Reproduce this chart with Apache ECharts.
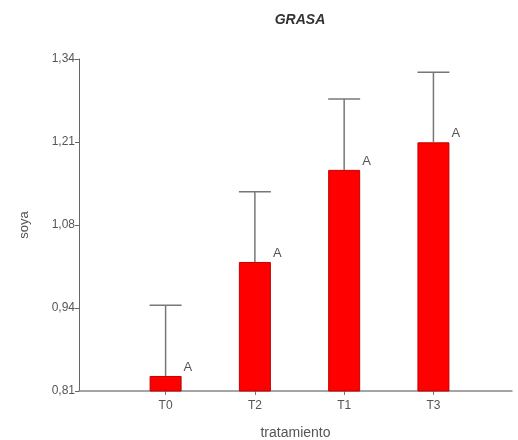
<!DOCTYPE html>
<html>
<head>
<meta charset="utf-8">
<script src="https://cdn.jsdelivr.net/npm/echarts@6/dist/echarts.min.js"></script>
<style>html,body{margin:0;padding:0;background:#fff}#c{width:518px;height:440px}</style>
</head>
<body>
<div id="c"></div>
<script>
var categories = ['T0', 'T2', 'T1', 'T3'];
var means = [0.834, 1.016, 1.163, 1.207];
var upper = [0.947, 1.128, 1.276, 1.319];
var letters = ['A', 'A', 'A', 'A'];
var yTickLabels = ['0,81', '0,94', '1,08', '1,21', '1,34'];

var yMin = 0.81, yMax = 1.34, yStep = (yMax - yMin) / 4;
var positions = categories.map(function (c, i) { return i + 1; });

var chart = echarts.init(document.getElementById('c'));
var font = 'Liberation Sans, Arial, sans-serif';
chart.setOption({
  animation: false,
  title: {
    text: 'GRASA', left: 295, top: 8, textAlign: 'center',
    textStyle: { fontSize: 14, fontWeight: 'bold', fontStyle: 'italic', color: '#333', fontFamily: font }
  },
  grid: { left: 79, right: 6, top: 59, bottom: 49, outerBoundsMode: 'none', containLabel: false },
  xAxis: {
    type: 'value', min: 0.03, max: 4.88,
    name: 'tratamiento', nameLocation: 'middle', nameGap: 35,
    nameTextStyle: { fontSize: 14, color: '#555', fontFamily: font },
    axisLine: { show: true, onZero: false, lineStyle: { color: '#888', width: 1.5 } },
    axisTick: { show: true, length: 4, customValues: positions, lineStyle: { color: '#777' } },
    axisLabel: {
      customValues: positions, margin: 9, fontSize: 12, color: '#555', fontFamily: font,
      formatter: function (v) { return categories[Math.round(v) - 1] || ''; }
    },
    splitLine: { show: false }
  },
  yAxis: {
    type: 'value', min: yMin, max: yMax, interval: yStep,
    name: 'soya', nameLocation: 'middle', nameGap: 48,
    nameTextStyle: { fontSize: 13, color: '#555', fontFamily: font },
    axisLine: { show: true, lineStyle: { color: '#666', width: 1 } },
    axisTick: { show: true, length: 4, lineStyle: { color: '#666' } },
    axisLabel: {
      margin: 4, fontSize: 12, color: '#555', fontFamily: font,
      formatter: function (v) { return yTickLabels[Math.round((v - yMin) / yStep)]; }
    },
    splitLine: { show: false }
  },
  series: [
    {
      type: 'bar', barWidth: 32,
      data: means.map(function (m, i) { return [positions[i], m]; }),
      itemStyle: { color: '#ff0000', borderColor: '#c00000', borderWidth: 1 },
      label: {
        show: true, position: [34, -15], fontSize: 13, color: '#555', fontFamily: font,
        formatter: function (p) { return letters[p.dataIndex]; }
      },
      z: 2
    },
    {
      type: 'custom',
      data: means.map(function (m, i) { return [positions[i], m, upper[i]]; }),
      renderItem: function (params, api) {
        var base = api.coord([api.value(0), api.value(1)]);
        var top = api.coord([api.value(0), api.value(2)]);
        var half = 16;
        var st = { stroke: '#777', lineWidth: 1.5 };
        return {
          type: 'group',
          children: [
            { type: 'line', shape: { x1: base[0], y1: base[1], x2: top[0], y2: top[1] }, style: st },
            { type: 'line', shape: { x1: top[0] - half, y1: top[1], x2: top[0] + half, y2: top[1] }, style: st }
          ]
        };
      },
      z: 3
    }
  ]
});
</script>
</body>
</html>
